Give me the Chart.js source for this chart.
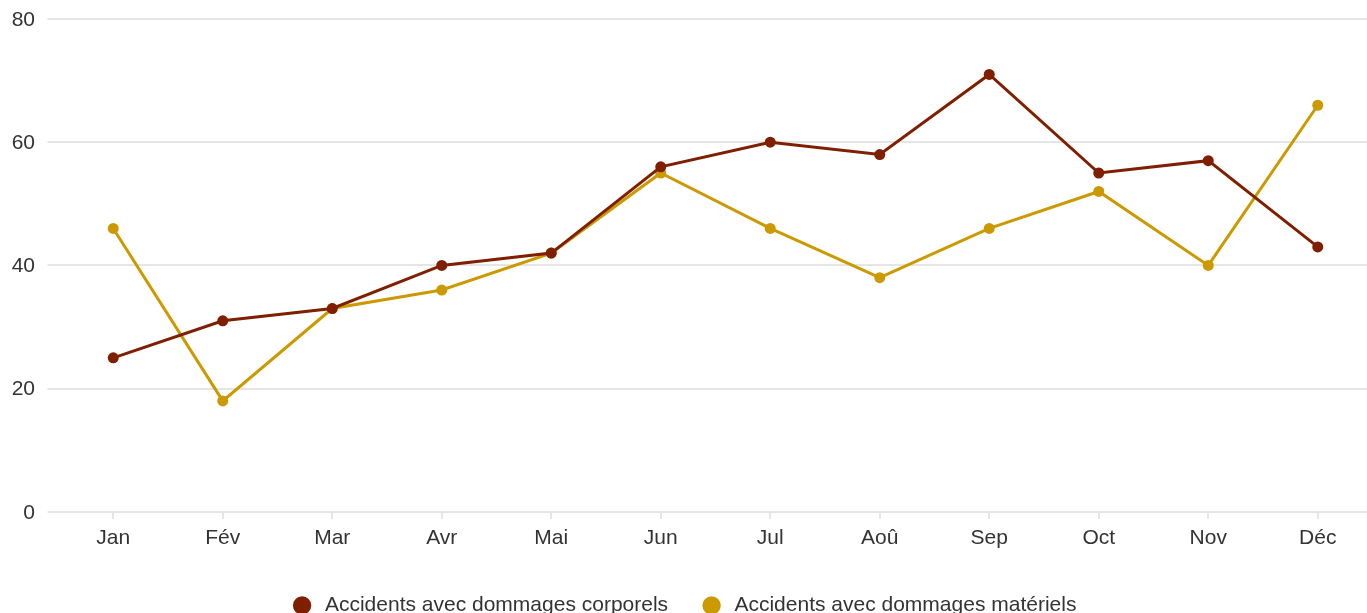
<!DOCTYPE html>
<html>
<head>
<meta charset="utf-8">
<script src="https://cdn.jsdelivr.net/npm/chart.js@4"></script>
<style>
  html, body { margin: 0; padding: 0; background: #fff; overflow: hidden; }
  canvas { display: block; }
</style>
</head>
<body>
<canvas id="accidentsChart" width="1378" height="626"></canvas>
<script>
// Mois (catégories)
const mois = ["Jan", "Fév", "Mar", "Avr", "Mai", "Jun", "Jul", "Aoû", "Sep", "Oct", "Nov", "Déc"];

// Séries
const corporels = [25, 31, 33, 40, 42, 56, 60, 58, 71, 55, 57, 43];
const materiels = [46, 18, 33, 36, 42, 55, 46, 38, 46, 52, 40, 66];

// Graduations de l'axe Y
const yTicks = [0, 20, 40, 60, 80];

// --- Couleurs et police ---
const corporelsColor = "#7f1f00";
const materielsColor = "#cc9a00";
const gridColor = "#e5e5e5";
const textColor = "#333333";
const fontFamily = "'Liberation Sans', Arial, sans-serif";

const ctx = document.getElementById("accidentsChart").getContext("2d");

// Décale la légende de quelques pixels vers la gauche (canvas plus large que la fenêtre)
const legendShift = {
  id: "legendShift",
  afterLayout(chart) {
    chart.legend.left -= 3;
    chart.legend.right -= 3;
  },
};

new Chart(ctx, {
  type: "line",
  data: {
    labels: mois,
    datasets: [
      {
        label: "Accidents avec dommages corporels",
        data: corporels,
        borderColor: corporelsColor,
        backgroundColor: corporelsColor,
        pointBackgroundColor: corporelsColor,
        borderWidth: 3,
        pointRadius: 5.5,
        pointBorderWidth: 0,
        tension: 0,
      },
      {
        label: "Accidents avec dommages matériels",
        data: materiels,
        borderColor: materielsColor,
        backgroundColor: materielsColor,
        pointBackgroundColor: materielsColor,
        borderWidth: 3,
        pointRadius: 5.5,
        pointBorderWidth: 0,
        tension: 0,
      },
    ],
  },
  plugins: [legendShift],
  options: {
    responsive: false,
    animation: false,
    layout: { padding: 0 },
    plugins: {
      legend: {
        position: "bottom",
        labels: {
          usePointStyle: true,
          pointStyle: "circle",
          boxWidth: 13,
          boxHeight: 13,
          padding: 37,
          color: textColor,
          font: { family: fontFamily, size: 21 },
          // un espace devant le texte pour l'écart pastille / libellé
          generateLabels: (chart) =>
            Chart.defaults.plugins.legend.labels
              .generateLabels(chart)
              .map((item) => ({ ...item, text: " " + item.text })),
        },
      },
      tooltip: { enabled: false },
    },
    scales: {
      x: {
        offset: true,
        grid: {
          drawOnChartArea: false,
          color: gridColor,
          lineWidth: 2,
          tickLength: 7,
        },
        border: { color: gridColor, width: 2 },
        ticks: {
          color: textColor,
          padding: 7,
          font: { family: fontFamily, size: 21 },
        },
      },
      y: {
        min: 0,
        max: 80,
        afterBuildTicks: (axis) => {
          axis.ticks = yTicks.map((v) => ({ value: v }));
        },
        afterFit: (axis) => {
          axis.width = 58.5;
          axis.paddingTop = 19;
          axis.paddingBottom = 0;
        },
        grid: {
          color: gridColor,
          lineWidth: 2,
          tickLength: 11,
        },
        border: { display: false },
        ticks: {
          color: textColor,
          padding: 12.5,
          labelOffset: 1,
          font: { family: fontFamily, size: 21 },
        },
      },
    },
  },
});
</script>
</body>
</html>
